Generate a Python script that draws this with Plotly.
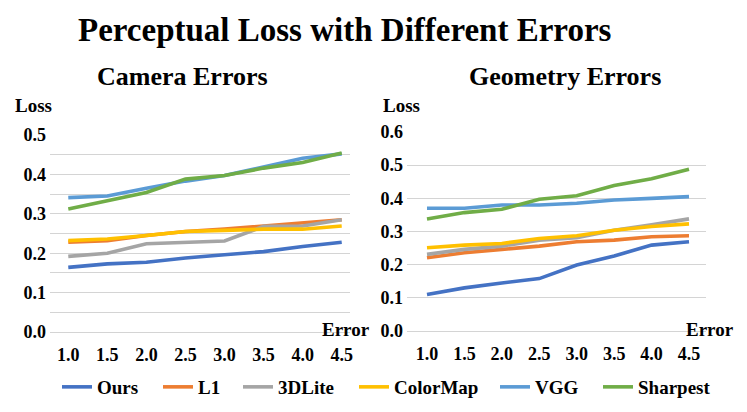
import plotly.graph_objects as go

# error levels (x axis)
errors = [1.0, 1.5, 2.0, 2.5, 3.0, 3.5, 4.0, 4.5]
methods = ["Ours", "L1", "3DLite", "ColorMap", "VGG", "Sharpest"]
colors = ["#4472C4", "#ED7D31", "#A5A5A5", "#FFC000", "#5B9BD5", "#70AD47"]

# Camera errors (left panel)
cam_ours = [0.164, 0.173, 0.177, 0.188, 0.196, 0.204, 0.217, 0.228]
cam_l1 = [0.228, 0.232, 0.245, 0.255, 0.261, 0.269, 0.278, 0.285]
cam_3dlite = [0.192, 0.200, 0.224, 0.228, 0.231, 0.268, 0.269, 0.285]
cam_colormap = [0.232, 0.236, 0.245, 0.255, 0.258, 0.261, 0.261, 0.269]
cam_vgg = [0.341, 0.345, 0.365, 0.383, 0.397, 0.420, 0.441, 0.452]
cam_sharpest = [0.312, 0.333, 0.354, 0.388, 0.397, 0.416, 0.430, 0.454]

# Geometry errors (right panel)
geo_ours = [0.110, 0.130, 0.145, 0.158, 0.199, 0.226, 0.259, 0.269]
geo_l1 = [0.221, 0.236, 0.246, 0.256, 0.269, 0.274, 0.284, 0.287]
geo_3dlite = [0.231, 0.246, 0.256, 0.274, 0.281, 0.304, 0.320, 0.338]
geo_colormap = [0.251, 0.259, 0.264, 0.279, 0.287, 0.304, 0.315, 0.323]
geo_vgg = [0.370, 0.370, 0.380, 0.380, 0.385, 0.395, 0.400, 0.405]
geo_sharpest = [0.338, 0.357, 0.367, 0.397, 0.408, 0.439, 0.459, 0.488]

# y ticks: grid every 0.05 on the left panel, labels every 0.1
cam_ticks = [0.0, 0.05, 0.1, 0.15, 0.2, 0.25, 0.3, 0.35, 0.4, 0.45, 0.5]
cam_ticktext = ["0.0", "", "0.1", "", "0.2", "", "0.3", "", "0.4", "", "0.5"]
geo_ticks = [0.0, 0.1, 0.2, 0.3, 0.4, 0.5, 0.6]
geo_ticktext = ["0.0", "0.1", "0.2", "0.3", "0.4", "0.5", "0.6"]

camera = [cam_ours, cam_l1, cam_3dlite, cam_colormap, cam_vgg, cam_sharpest]
geometry = [geo_ours, geo_l1, geo_3dlite, geo_colormap, geo_vgg, geo_sharpest]

FONT = "Liberation Serif, Times New Roman, Times, serif"
GRID = "#D4D4D4"
LW = 3.6

# where each legend entry's text starts (px), one legend per method
legend_text_x = [99, 200, 280, 396, 537, 640]
legend_ids = ["legend", "legend2", "legend3", "legend4", "legend5", "legend6"]

fig = go.Figure()

for name, col, ys, lg in zip(methods, colors, camera, legend_ids):
    fig.add_trace(go.Scatter(x=errors, y=ys, mode="lines", name=name,
                             line=dict(color=col, width=LW),
                             xaxis="x", yaxis="y", legendgroup=name,
                             legend=lg))
for name, col, ys in zip(methods, colors, geometry):
    fig.add_trace(go.Scatter(x=errors, y=ys, mode="lines", name=name,
                             line=dict(color=col, width=LW),
                             xaxis="x2", yaxis="y2", legendgroup=name,
                             showlegend=False))

tickfont = dict(family=FONT, size=18, color="black", weight="bold")
xcommon = dict(showgrid=False, zeroline=False, showline=False,
               tickvals=errors, tickformat=".1f", tickfont=tickfont,
               ticklabelstandoff=10, fixedrange=True, automargin=False)
ycommon = dict(showgrid=True, gridcolor=GRID, gridwidth=1.4, zeroline=True,
               zerolinecolor=GRID, zerolinewidth=1.4, showline=False,
               tickfont=tickfont, ticklabelstandoff=3,
               fixedrange=True, automargin=False)

legend_font = dict(family=FONT, size=19, color="black", weight="bold")
legends = {}
for lg, tx in zip(legend_ids, legend_text_x):
    legends[lg] = dict(orientation="h", x=(tx - 42) / 747, xanchor="left",
                       y=1 - 387 / 412, yanchor="middle", font=legend_font,
                       itemwidth=30, bgcolor="rgba(0,0,0,0)")

fig.update_layout(
    width=747, height=412,
    margin=dict(l=0, r=0, t=0, b=0, autoexpand=False),
    plot_bgcolor="white", paper_bgcolor="white",
    xaxis=dict(domain=[50 / 747, 350 / 747], range=[0.766, 4.606],
               anchor="y", **xcommon),
    yaxis=dict(domain=[1 - 332 / 412, 1 - 135 / 412], range=[0, 0.5],
               anchor="x", tickmode="array", tickvals=cam_ticks,
               ticktext=cam_ticktext, **ycommon),
    xaxis2=dict(domain=[407 / 747, 706 / 747], range=[0.733, 4.727],
                anchor="y2", **xcommon),
    yaxis2=dict(domain=[1 - 331 / 412, 1 - 132 / 412], range=[0, 0.6],
                anchor="x2", tickmode="array", tickvals=geo_ticks,
                ticktext=geo_ticktext, **ycommon),
    showlegend=True,
    **legends,
)


def label(text, x, y, size, xanchor="center"):
    fig.add_annotation(text=text, x=x, y=y, xref="paper", yref="paper",
                       xanchor=xanchor, yanchor="middle", showarrow=False,
                       font=dict(family=FONT, size=size, color="black",
                                 weight="bold"))


label("Perceptual Loss with Different Errors", 345 / 747, 1 - 30 / 412, 33)
label("Camera Errors", 182 / 747, 1 - 76 / 412, 26)
label("Geometry Errors", 565 / 747, 1 - 76 / 412, 26)
label("Loss", 13 / 747, 1 - 105 / 412, 19, "left")
label("Loss", 381 / 747, 1 - 105 / 412, 19, "left")
label("Error", 346 / 747, 1 - 329 / 412, 19)
label("Error", 710 / 747, 1 - 329 / 412, 19)

# remove the default page margin so the figure sits at the window origin
fig.write_html("out.html", config={"displayModeBar": False},
               post_script="document.body.style.margin='0';"
                           "document.body.style.overflow='hidden';")
